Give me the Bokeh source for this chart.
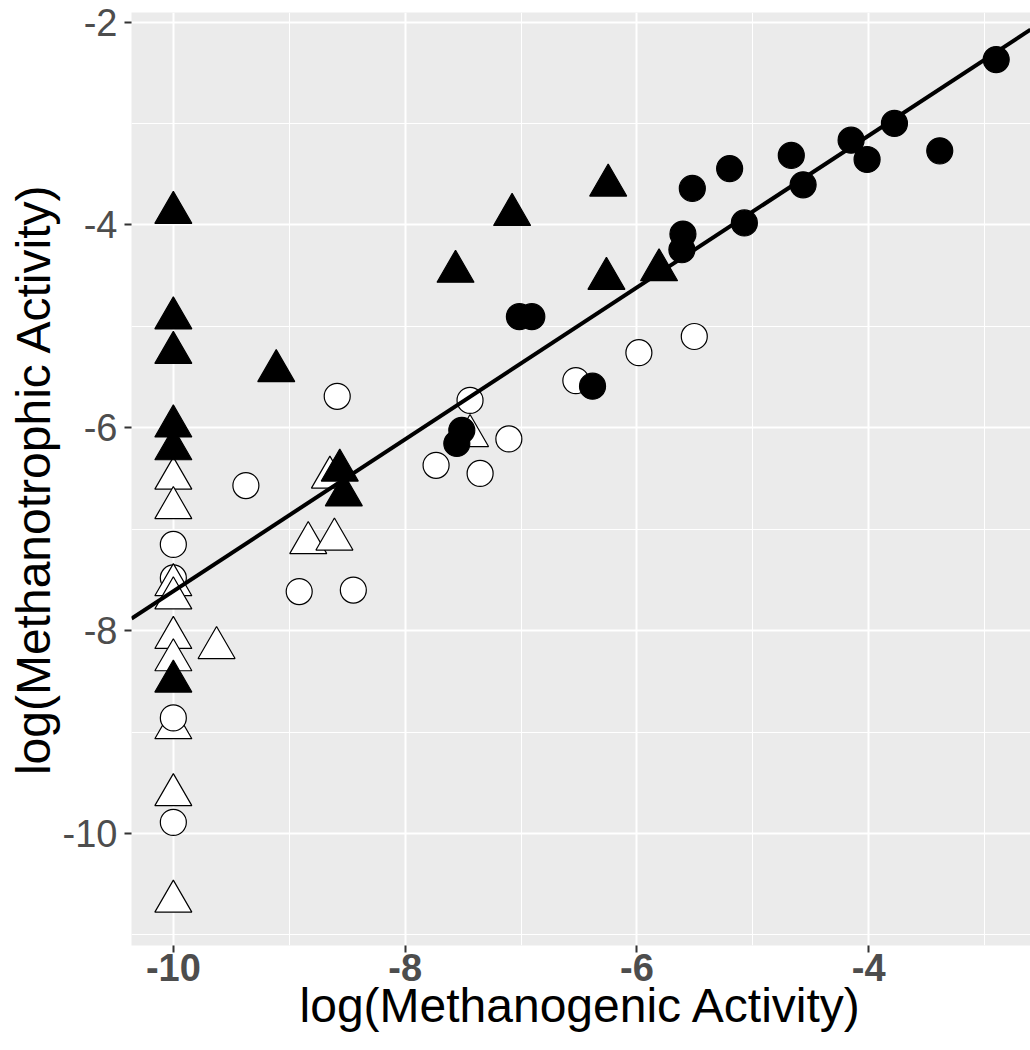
from bokeh.plotting import figure
from bokeh.models import ColumnDataSource, FixedTicker, Range1d, CustomJSTickFormatter
from bokeh.embed import file_html
from bokeh.resources import INLINE

# ---------------- data ----------------
# Draw order matters for overlaps, so points are listed in drawing order.
open_circle_back_x = [-10.0]
open_circle_back_y = [-7.48]

open_triangle_x = [-10.0, -10.0, -10.0, -10.0, -10.0, -10.0, -10.0, -10.0, -10.0,
                   -9.627, -8.649, -8.836, -8.610, -7.440]
open_triangle_y = [-6.50, -6.79, -7.55, -7.68, -8.07, -8.29, -8.96, -9.62, -10.67,
                   -8.17, -6.49, -7.135, -7.10, -6.08]

open_circle_x = [-10.0, -10.0, -10.0, -8.586, -9.374, -8.914, -8.447,
                 -5.505, -5.983, -6.527, -7.440, -7.105, -7.733, -7.353]
open_circle_y = [-7.15, -8.86, -9.89, -5.69, -6.57, -7.615, -7.60,
                 -5.10, -5.26, -5.535, -5.73, -6.11, -6.37, -6.45]

filled_triangle_x = [-10.0, -10.0, -10.0, -10.0, -10.0, -10.0,
                     -9.112, -8.564, -8.529, -7.565, -7.077, -6.248, -6.263, -5.809]
filled_triangle_y = [-3.88, -4.92, -5.26, -5.985, -6.21, -8.50,
                     -5.44, -6.42, -6.665, -4.46, -3.90, -3.61, -4.53, -4.445]

filled_circle_x = [-2.900, -3.778, -4.152, -4.014, -3.387, -4.668, -5.200, -5.522,
                   -4.566, -5.073, -5.603, -5.612, -7.014, -6.907, -6.383, -7.511, -7.554]
filled_circle_y = [-2.37, -3.00, -3.165, -3.355, -3.27, -3.315, -3.445, -3.64,
                   -3.605, -3.98, -4.09, -4.245, -4.905, -4.905, -5.59, -6.025, -6.155]

# regression line
fit_slope = 0.7486
fit_intercept = -0.125

x_ticks = [-10, -8, -6, -4]
x_minor = [-9, -7, -5, -3]
y_ticks = [-10, -8, -6, -4, -2]
y_minor = [-11, -9, -7, -5, -3]

x_label = "log(Methanogenic Activity)"
y_label = "log(Methanotrophic Activity)"

# ---------------- build ----------------
groups = [
    (open_circle_back_x, open_circle_back_y, "circle", "white"),
    (open_triangle_x, open_triangle_y, "triangle", "white"),
    (open_circle_x, open_circle_y, "circle", "white"),
    (filled_triangle_x, filled_triangle_y, "triangle", "black"),
    (filled_circle_x, filled_circle_y, "circle", "black"),
]
xs, ys, markers, fills, sizes = [], [], [], [], []
for gx, gy, m, f in groups:
    for a, b in zip(gx, gy):
        xs.append(a)
        ys.append(b)
        markers.append(m)
        fills.append(f)
        sizes.append(37 if m == "triangle" else 26)

src = ColumnDataSource(dict(x=xs, y=ys, marker=markers, fill=fills, size=sizes))

x0, x1 = -10.361, -2.604
y0, y1 = -11.104, -1.906

p = figure(width=1030, height=1050,
           x_range=Range1d(x0, x1), y_range=Range1d(y0, y1),
           output_backend="svg", toolbar_location=None,
           min_border_left=131, min_border_right=0,
           min_border_top=12, min_border_bottom=105)

p.background_fill_color = "#EBEBEB"
p.border_fill_color = "white"
p.outline_line_color = None

p.xaxis.ticker = FixedTicker(ticks=x_ticks, minor_ticks=x_minor)
p.yaxis.ticker = FixedTicker(ticks=y_ticks, minor_ticks=y_minor)

for g in (p.xgrid, p.ygrid):
    g.grid_line_color = "white"
    g.grid_line_width = 2
    g.minor_grid_line_color = "white"
    g.minor_grid_line_width = 1

for ax in (p.xaxis, p.yaxis):
    ax.formatter = CustomJSTickFormatter(code="return tick.toString();")
    ax.axis_line_color = None
    ax.major_tick_line_color = "#333333"
    ax.major_tick_line_width = 2
    ax.major_tick_out = 7
    ax.major_tick_in = 0
    ax.minor_tick_line_color = None
    ax.major_label_text_font = "Liberation Sans"
    ax.major_label_text_font_size = "38px"
    ax.major_label_text_color = "#4D4D4D"
    ax.axis_label_text_font = "Liberation Sans"
    ax.axis_label_text_font_size = "48px"
    ax.axis_label_text_font_style = "normal"
    ax.axis_label_text_color = "black"

p.xaxis.major_label_text_font_style = "bold"
p.xaxis.major_label_standoff = 1
p.xaxis.axis_label_standoff = -5
p.xaxis.axis_label = x_label

p.yaxis.major_label_standoff = 7
p.yaxis.axis_label_standoff = 0
p.yaxis.axis_label = y_label

p.scatter("x", "y", source=src, marker="marker", size="size",
          fill_color="fill", line_color="black", line_width=1.2)

p.line(x=[x0, x1], y=[fit_intercept + fit_slope * x0, fit_intercept + fit_slope * x1],
       line_color="black", line_width=4)

open("out.html", "w").write(file_html(p, INLINE))
